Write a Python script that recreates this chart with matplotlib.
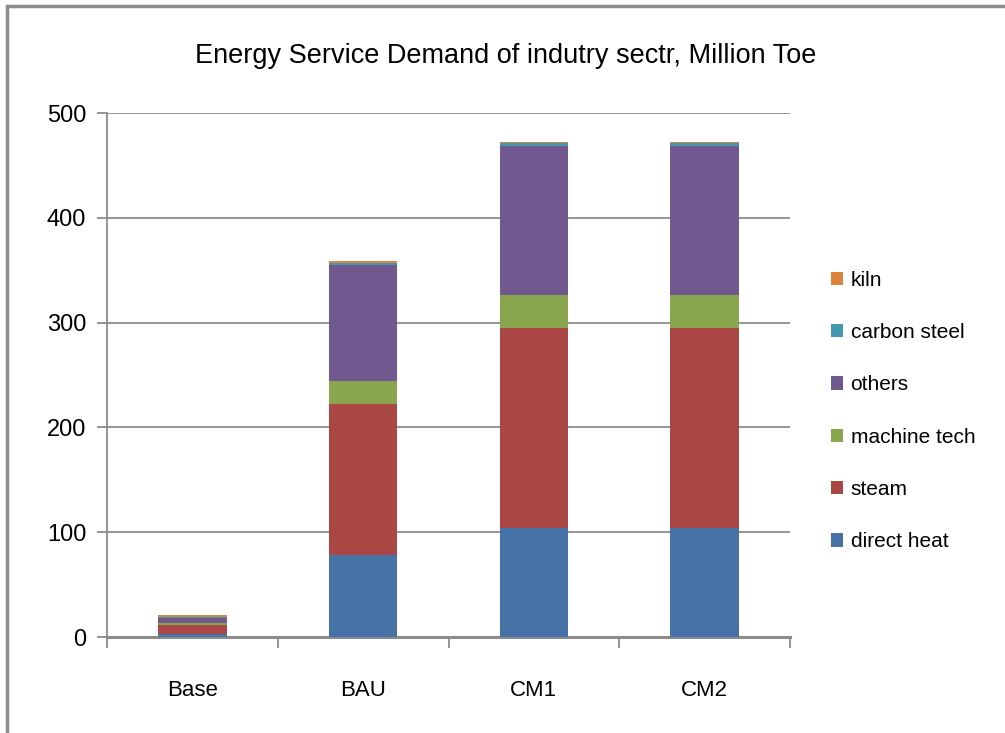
import matplotlib
matplotlib.use("Agg")
import matplotlib.pyplot as plt
import matplotlib.patches as patches
import numpy as np

# data (Million Toe)
scenarios = ["Base", "BAU", "CM1", "CM2"]
direct_heat = [3, 78, 104, 104]
steam = [8, 144, 191, 191]
machine_tech = [2.5, 22, 31, 31]
others = [4.5, 111, 142.5, 142.5]
carbon_steel = [0.7, 2, 2.5, 2.5]
kiln = [2, 2, 1.5, 1.5]

series = [
    ("direct heat", direct_heat, "#4572A7"),
    ("steam", steam, "#AA4643"),
    ("machine tech", machine_tech, "#89A54E"),
    ("others", others, "#71588F"),
    ("carbon steel", carbon_steel, "#4198AF"),
    ("kiln", kiln, "#DB843D"),
]

plt.rcParams["font.family"] = ["Liberation Sans", "DejaVu Sans"]

fig = plt.figure(figsize=(10.05, 7.33), dpi=100, facecolor="white")
ax = fig.add_axes([107 / 1005, 96 / 733, 683 / 1005, 524 / 733])

# outer chart frame
fig.patches.append(patches.Rectangle((7 / 1005, -0.01), 1.2, 1.0 - 6 / 733 + 0.01,
                                     transform=fig.transFigure, fill=False,
                                     edgecolor="#8c8c8c", linewidth=2.5))

x = np.arange(len(scenarios))
bottom = np.zeros(len(scenarios))
handles = []
for name, vals, color in series:
    b = ax.bar(x, vals, width=0.4, bottom=bottom, color=color, label=name,
               edgecolor="none", zorder=3)
    handles.append(b)
    bottom += np.array(vals)

ax.set_xlim(-0.5, len(scenarios) - 0.5)
ax.set_ylim(0, 500)
ax.set_yticks(np.arange(0, 501, 100))
ax.yaxis.grid(True, color="#8c8c8c", linewidth=1.3, zorder=0)
ax.set_axisbelow(True)

for s in ["top", "right"]:
    ax.spines[s].set_visible(False)
ax.spines["left"].set_color("#8c8c8c")
ax.spines["left"].set_linewidth(1.3)
ax.spines["bottom"].set_color("#8c8c8c")
ax.spines["bottom"].set_linewidth(2.2)

ax.set_xticks(np.arange(-0.5, len(scenarios), 1.0), minor=False)
ax.set_xticklabels([])
ax.set_xticks(x, minor=True)
ax.set_xticklabels(scenarios, minor=True, fontsize=16)
ax.tick_params(axis="x", which="major", length=8, color="#8c8c8c", width=1.3)
ax.tick_params(axis="x", which="minor", length=0, pad=31)
ax.tick_params(axis="y", length=7, color="#8c8c8c", width=1.3, labelsize=17, pad=8)

fig.text(506 / 1005, 1 - 56 / 733, "Energy Service Demand of indutry sectr, Million Toe",
         fontsize=19.5, ha="center", va="center")

leg = fig.legend(handles[::-1], [s[0] for s in series][::-1],
                 loc="center left", bbox_to_anchor=(812 / 1005, 1 - 411 / 733),
                 frameon=False, fontsize=15, handlelength=0.6, handleheight=0.6,
                 handletextpad=0.35, labelspacing=1.6)

fig.savefig("out.png", dpi=100, facecolor="white")
